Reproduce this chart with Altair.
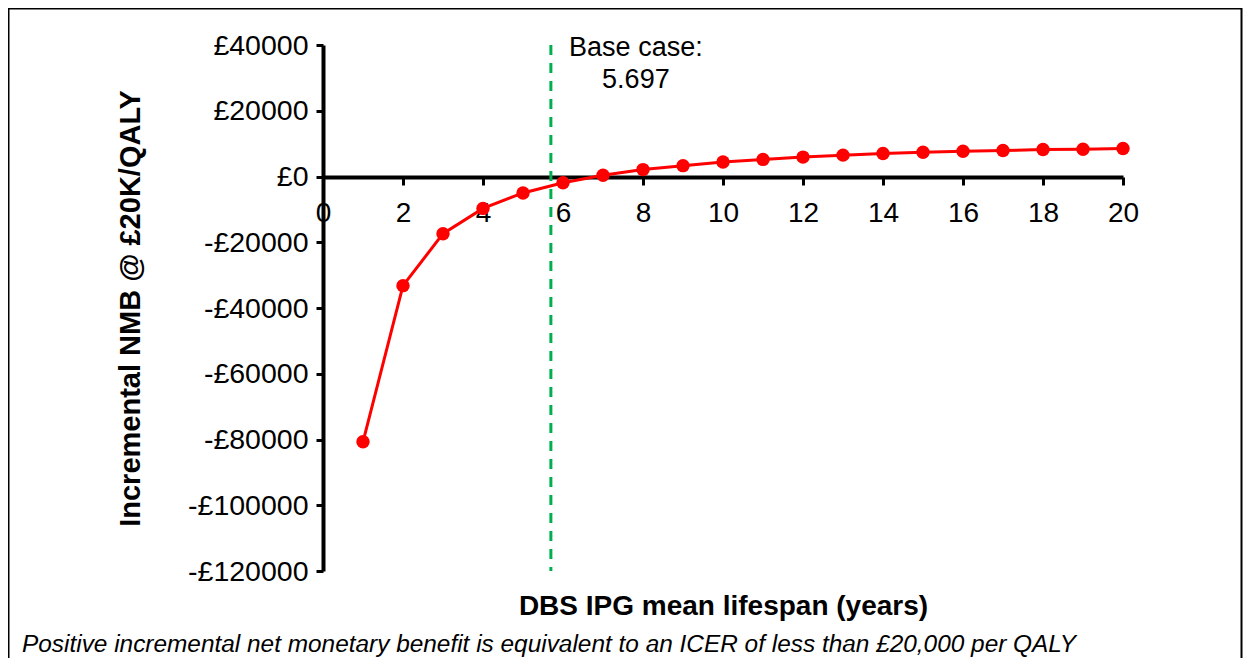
import altair as alt
import pandas as pd

# Data
lifespan = list(range(1, 21))
nmb = [-80700, -33200, -17400, -9700, -5000, -1900, 400, 2100, 3300, 4400,
       5200, 5900, 6500, 7000, 7400, 7700, 7900, 8200, 8300, 8500]
base_case = [5.697]
base_label = ["Base case:\n5.697"]
y_ticks = [40000, 20000, 0, -20000, -40000, -60000, -80000, -100000, -120000]
x_ticks = list(range(0, 21, 2))
footnote = "Positive incremental net monetary benefit is equivalent to an ICER of less than £20,000 per QALY"

df = pd.DataFrame({"x": lifespan, "y": nmb})
df_base = pd.DataFrame({"x": base_case, "label": base_label})

FONT = "Liberation Sans"

xscale = alt.Scale(domain=[0, 20], nice=False)
yscale = alt.Scale(domain=[-120000, 40000], nice=False)

x_axis = alt.Axis(
    values=x_ticks, offset=-394, grid=False,
    domainColor="black", domainWidth=4, tickColor="black", tickWidth=3, tickSize=8,
    labelFont=FONT, labelFontSize=28, labelColor="black", labelPadding=14,
    labelFlush=False, labelOverlap=False,
    title="DBS IPG mean lifespan (years)", titleFont=FONT, titleFontSize=28,
    titleFontWeight="bold", titleColor="black", titleY=429, titleBaseline="middle",
)
y_axis = alt.Axis(
    values=y_ticks, grid=False,
    domainColor="black", domainWidth=4, tickColor="black", tickWidth=3, tickSize=7,
    labelFont=FONT, labelFontSize=28.5, labelColor="black", labelPadding=8,
    labelFlush=False, labelOverlap=False,
    labelExpr="datum.value < 0 ? '-£' + format(-datum.value, 'd') : '£' + format(datum.value, 'd')",
    title="Incremental NMB @ £20K/QALY", titleFont=FONT, titleFontSize=29,
    titleFontWeight="bold", titleColor="black", titleX=-193, titleBaseline="middle",
    titleAngle=270,
)

border = alt.Chart(pd.DataFrame({"a": [0]})).mark_rect(
    fill="transparent", stroke="black", strokeWidth=2
).encode(
    x=alt.value(-314.5), x2=alt.value(918.5), y=alt.value(-36.5), y2=alt.value(700)
)

line = alt.Chart(df).mark_line(color="#FF0000", strokeWidth=3).encode(
    x=alt.X("x:Q", scale=xscale, axis=x_axis),
    y=alt.Y("y:Q", scale=yscale, axis=y_axis),
)

base_rule = alt.Chart(df_base).mark_rule(
    color="#00B050", strokeWidth=3, strokeDash=[10, 8]
).encode(
    x=alt.X("x:Q", scale=xscale, axis=x_axis),
    y=alt.datum(40000, scale=yscale),
    y2=alt.datum(-120000),
)

base_text = alt.Chart(df_base).mark_text(
    font=FONT, fontSize=27, color="black", align="center", baseline="alphabetic",
    lineBreak="\n", lineHeight=32, dx=85, dy=11
).encode(
    x=alt.X("x:Q", scale=xscale, axis=x_axis),
    y=alt.datum(40000, scale=yscale),
    text="label:N",
)

points = alt.Chart(df).mark_circle(color="#FF0000", opacity=1, size=180).encode(
    x=alt.X("x:Q", scale=xscale, axis=x_axis),
    y=alt.Y("y:Q", scale=yscale, axis=y_axis),
)

foot = alt.Chart(pd.DataFrame({"t": [footnote]})).mark_text(
    font=FONT, fontSize=24.4, fontStyle="italic", color="black", align="left",
    baseline="alphabetic"
).encode(
    x=alt.value(-301), y=alt.value(607), text="t:N"
)

chart = alt.layer(line, base_rule, points, base_text, foot, border).properties(
    width=800, height=526,
    autosize=alt.AutoSizeParams(type="none"),
    padding={"left": 315, "top": 37, "right": 120, "bottom": 87},
    background="white",
).configure_view(stroke=None)

chart.save("out.html", embed_options={"renderer": "svg", "actions": False})
